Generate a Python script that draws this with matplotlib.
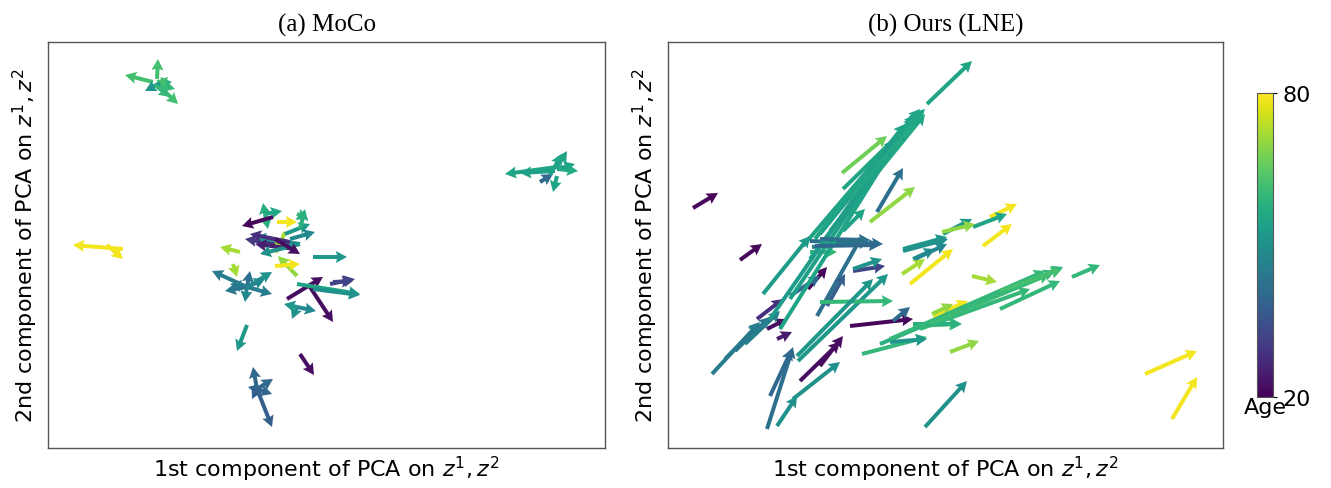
import matplotlib
matplotlib.use('Agg')
import matplotlib.pyplot as plt
import numpy as np

# flechas (inicio x, inicio y, fin x, fin y, edad) leidas de la figura
# unidades: coordenadas de la imagen, eje y hacia abajo
# (a) MoCo
moco_x0 = [157, 153, 157, 157, 158, 160, 160, 155,
           557, 557, 557, 557, 540, 550, 557, 555,
           123, 107,
           265, 265, 265, 273, 277, 297, 293, 300, 240, 285, 297, 233,
           247, 247, 247, 247, 247, 275, 313, 287, 310, 297, 333, 297, 297, 297,
           290, 295, 300, 285, 290, 300, 275, 247, 247, 247, 313, 330,
           247, 300,
           257, 257, 257, 257, 257, 257]
moco_y0 = [80, 83, 85, 85, 84, 86, 84, 86,
           168, 168, 177, 170, 183, 176, 170, 172,
           250, 246,
           215, 215, 215, 218, 223, 215, 248, 245, 253, 233, 277, 265,
           288, 288, 288, 288, 288, 267, 258, 300, 288, 285, 283, 308, 308, 308,
           243, 250, 245, 235, 240, 230, 240, 288, 288, 288, 290, 285,
           326, 355,
           390, 390, 390, 390, 390, 390]
moco_x1 = [158, 125, 178, 175, 172, 168, 145, 170,
           505, 567, 553, 578, 553, 562, 575, 520,
           73, 123,
           263, 282, 268, 242, 297, 308, 245, 255, 220, 276, 278, 237,
           212, 272, 250, 245, 272, 300, 347, 323, 333, 360, 353, 292, 284, 316,
           250, 255, 260, 310, 315, 305, 300, 230, 265, 225, 360, 355,
           237, 314,
           253, 273, 272, 248, 252, 272]
moco_y1 = [60, 76, 105, 90, 83, 78, 92, 98,
           175, 152, 193, 172, 175, 155, 165, 174,
           246, 260,
           204, 212, 230, 227, 223, 220, 240, 238, 248, 255, 257, 278,
           272, 295, 272, 303, 273, 265, 258, 278, 323, 295, 282, 320, 305, 312,
           235, 245, 255, 225, 233, 210, 255, 285, 280, 292, 296, 280,
           352, 376,
           368, 380, 395, 388, 400, 428]
moco_age = [62, 62, 62, 60, 58, 62, 52, 60,
            55, 55, 55, 57, 40, 55, 55, 54,
            79, 79,
            58, 56, 58, 21, 79, 60, 30, 50, 72, 72, 70, 72,
            45, 45, 42, 48, 50, 79, 52, 22, 22, 55, 32, 50, 52, 48,
            28, 25, 50, 52, 48, 58, 22, 45, 48, 44, 50, 32,
            52, 22,
            40, 40, 40, 40, 38, 38]

# (b) Ours (LNE)
lne_x0 = [693, 843, 927, 803, 820, 815, 830, 842, 877, 870, 843,
          810, 812, 810, 740, 763, 903, 913, 902, 910, 853, 853, 808, 790,
          817, 827, 798, 820, 850, 757, 767, 777, 712, 767, 770, 777, 793,
          800, 820, 797, 862, 913, 990, 973, 983, 943, 942, 903, 915,
          972, 880, 920, 1000, 1072, 933, 932, 913, 890, 950, 1145, 1172,
          925, 893, 725, 735, 745,
          780, 790, 810, 770, 850, 890, 930, 960, 1000, 815, 820]
lne_y0 = [209, 190, 105, 247, 235, 240, 232, 174, 213, 223, 232,
          242, 248, 253, 261, 295, 250, 260, 275, 285, 272, 270, 290, 297,
          317, 307, 362, 303, 327, 320, 330, 340, 375, 430, 397, 427, 400,
          382, 367, 357, 355, 327, 218, 228, 247, 235, 233, 252, 260,
          277, 345, 330, 310, 278, 317, 315, 325, 343, 353, 375, 420,
          428, 322, 360, 352, 345,
          330, 300, 260, 320, 200, 340, 325, 310, 292, 247, 240]
lne_x1 = [718, 925, 972, 920, 915, 905, 925, 887, 903, 915, 865,
          883, 870, 837, 762, 810, 947, 935, 925, 953, 885, 882, 827, 820,
          862, 845, 888, 893, 913, 783, 787, 792, 760, 793, 792, 797, 840,
          840, 843, 873, 927, 960, 1017, 1007, 1012, 972, 975, 948, 947,
          997, 1063, 1030, 1060, 1100, 968, 953, 962, 927, 979, 1197, 1197,
          967, 910, 760, 770, 780,
          905, 915, 920, 895, 918, 1045, 1050, 1055, 1062, 880, 870]
lne_y1 = [194, 110, 62, 110, 118, 125, 115, 137, 169, 188, 210,
          245, 243, 253, 245, 237, 238, 250, 260, 250, 267, 260, 268, 277,
          237, 275, 275, 302, 320, 300, 320, 333, 323, 348, 350, 397, 363,
          343, 337, 280, 338, 325, 205, 215, 225, 220, 225, 240, 245,
          283, 268, 290, 282, 266, 302, 305, 325, 340, 342, 352, 378,
          382, 308, 325, 318, 312,
          130, 115, 112, 140, 118, 272, 275, 272, 270, 246, 241]
lne_age = [21, 55, 55, 55, 53, 55, 56, 67, 42, 70, 55,
           42, 45, 60, 21, 53, 52, 50, 72, 79, 32, 50, 21, 40,
           42, 38, 52, 60, 21, 28, 22, 24, 45, 42, 40, 50, 50,
           22, 22, 52, 60, 62, 79, 55, 79, 52, 70, 50, 48,
           72, 58, 60, 60, 60, 79, 70, 58, 52, 70, 79, 79,
           50, 40, 45, 44, 46,
           55, 54, 55, 53, 56, 60, 61, 60, 62, 40, 42]

paneles = [
    ('(a) MoCo', moco_x0, moco_y0, moco_x1, moco_y1, moco_age, (48, 605)),
    ('(b) Ours (LNE)', lne_x0, lne_y0, lne_x1, lne_y1, lne_age, (668, 1223)),
]

fig = plt.figure(figsize=(13.31, 4.89), dpi=100)
posiciones = [[48/1331, 40/489, 557/1331, 406/489],
              [668/1331, 40/489, 555/1331, 406/489]]

for pos, (titulo, x0, y0, x1, y1, edad, xlim) in zip(posiciones, paneles):
    ax = fig.add_axes(pos)
    x0 = np.array(x0, float)
    y0 = np.array(y0, float)
    u = np.array(x1, float) - x0
    v = np.array(y1, float) - y0
    q = ax.quiver(x0, y0, u, v, np.array(edad, float), cmap='viridis',
                  angles='xy', scale_units='xy', scale=1,
                  width=0.0072, headwidth=3.0, headlength=2.8,
                  headaxislength=2.5, clim=(20, 80))
    ax.set_xlim(*xlim)
    ax.set_ylim(449, 43)
    ax.set_xticks([])
    ax.set_yticks([])
    for s in ax.spines.values():
        s.set_color('#555555')
        s.set_linewidth(1.0)
    ax.set_title(titulo, family='Liberation Serif', fontsize=18, pad=8)
    ax.set_xlabel('1st component of PCA on $z^1, z^2$', fontsize=16, labelpad=4)
    ax.set_ylabel('2nd component of PCA on $z^1, z^2$', fontsize=16, labelpad=6)

cax = fig.add_axes([1257/1331, 91/489, 16/1331, 304/489])
cb = fig.colorbar(q, cax=cax, ticks=[20, 80])
cb.ax.tick_params(labelsize=16, length=3, width=0.8)
cb.outline.set_edgecolor('#555555')
cb.ax.set_xlabel('Age', fontsize=16, labelpad=0)

plt.savefig('out.png', dpi=100)
